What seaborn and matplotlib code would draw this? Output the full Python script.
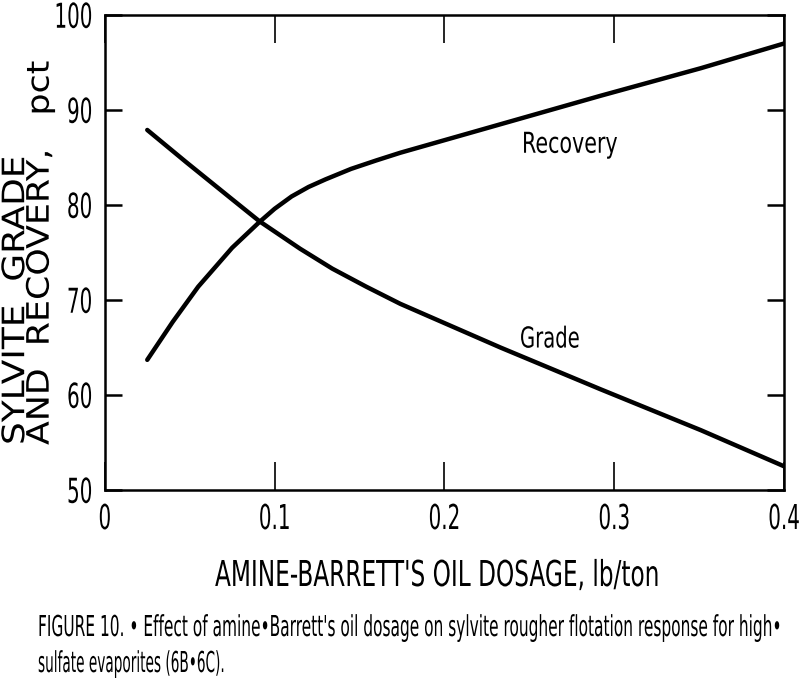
import matplotlib
matplotlib.use("Agg")
import matplotlib.pyplot as plt
import seaborn as sns
import pandas as pd
from matplotlib.patheffects import AbstractPathEffect
from matplotlib.transforms import Affine2D

# ---- data ----
grade_x = [0.025, 0.048, 0.075, 0.091, 0.115, 0.134, 0.154, 0.174, 0.233, 0.292, 0.351, 0.4]
grade_y = [87.9, 84.5, 80.6, 78.3, 75.4, 73.3, 71.4, 69.6, 65.0, 60.6, 56.3, 52.5]
recovery_x = [0.025, 0.040, 0.055, 0.075, 0.091, 0.100, 0.110, 0.120, 0.130, 0.145,
              0.160, 0.174, 0.233, 0.292, 0.351, 0.4]
recovery_y = [63.7, 67.7, 71.4, 75.5, 78.2, 79.6, 80.9, 81.9, 82.7, 83.8,
              84.7, 85.5, 88.5, 91.5, 94.4, 97.0]
x_ticks = [0, 0.1, 0.2, 0.3, 0.4]
x_tick_labels = ["0", "0.1", "0.2", "0.3", "0.4"]
y_ticks = [50, 60, 70, 80, 90, 100]
y_tick_labels = ["50", "60", "70", "80", "90", "100"]

df = pd.concat([
    pd.DataFrame({"dose": grade_x, "value": grade_y, "series": "Grade"}),
    pd.DataFrame({"dose": recovery_x, "value": recovery_y, "series": "Recovery"}),
])

CAP = 0.729          # DejaVu Sans cap / digit height (em)
CAP_MID = 36.45      # cap middle in text-path units (font size 100)


class Stretch(AbstractPathEffect):
    """Scale glyphs along (sx, from the text start) and across (sy) the text."""

    def __init__(self, sy, about="baseline", sx=1.0):
        super().__init__()
        self.sx = sx
        self.sy = sy
        self.about = about

    def draw_path(self, renderer, gc, tpath, affine, rgbFace=None):
        cy = 0.0 if self.about == "baseline" else CAP_MID
        tr = Affine2D().translate(0, -cy).scale(self.sx, self.sy).translate(0, cy) + affine
        renderer.draw_path(gc, tpath, tr, rgbFace)


sns.set_theme(style="ticks", rc={"text.color": "black", "axes.labelcolor": "black",
                                 "xtick.color": "black", "ytick.color": "black",
                                 "axes.edgecolor": "black"})
plt.rcParams["font.family"] = ["DejaVu Sans"]

DPI = 100
fig = plt.figure(figsize=(8, 6.82), dpi=DPI)
ax = fig.add_axes([0.131, 0.2815, 0.849, 0.6965])

sns.lineplot(data=df, x="dose", y="value", hue="series",
             palette={"Grade": "black", "Recovery": "black"},
             linewidth=3.2, legend=False, ax=ax, sort=False, estimator=None)

ax.set_xlim(0, 0.4)
ax.set_ylim(50, 100)
ax.set_xticks(x_ticks)
ax.set_xticklabels(x_tick_labels)
ax.set_yticks(y_ticks)
ax.set_yticklabels(y_tick_labels)
for s in ax.spines.values():
    s.set_visible(True)
    s.set_linewidth(1.8)
    s.set_color("black")
ax.set_xlabel("")
ax.set_ylabel("")

renderer = fig.canvas.get_renderer()


def nat_width(s, prop):
    w, h, d = renderer.get_text_width_height_descent(s, prop, ismath=False)
    return w


def fit(t, width_px, cap_px, about="baseline"):
    """Choose the font size so the text is width_px long, then stretch the
    glyphs so capitals are cap_px tall."""
    fs = t.get_fontsize() * width_px / nat_width(t.get_text(), t.get_fontproperties())
    t.set_fontsize(fs)
    sy = cap_px / (CAP * fs * DPI / 72.0)
    t.set_path_effects([Stretch(sy, about)])


def fit_both(t, width_px, cap_px):
    """Keep the (small) font size, scale glyphs along and across the text."""
    fs = t.get_fontsize()
    sx = width_px / nat_width(t.get_text(), t.get_fontproperties())
    sy = cap_px / (CAP * fs * DPI / 72.0)
    t.set_path_effects([Stretch(sy, "middle", sx)])


# tick labels: condensed numerals ("100" ~38 px wide, digits ~25 px tall)
probe = fig.text(0, 0, "100", fontsize=25)
tick_fs = 25 * 38.0 / nat_width("100", probe.get_fontproperties())
probe.remove()
tick_sy = 25.0 / (CAP * tick_fs * DPI / 72.0)
ax.tick_params(axis="x", direction="in", length=20, width=1.2, top=True,
               labelsize=tick_fs, pad=13.5)
ax.tick_params(axis="y", direction="in", length=12, width=1.8, right=True,
               labelsize=tick_fs, pad=9)
for lab in ax.get_xticklabels() + ax.get_yticklabels():
    lab.set_path_effects([Stretch(tick_sy, "middle")])

t = ax.text(0.2457, 85.5, "Recovery", fontsize=14, va="baseline", ha="left")
fit(t, 96, 21)
t = ax.text(0.2445, 65.0, "Grade", fontsize=14, va="baseline", ha="left")
fit(t, 60, 21)

H = 682.0
t = fig.text(215 / 800, 1 - 586 / H, "AMINE-BARRETT'S OIL DOSAGE, lb/ton",
             fontsize=16, ha="left", va="baseline")
fit(t, 445, 26)

t = fig.text(14.5 / 800, 1 - 445 / H, "SYLVITE  GRADE", rotation=90,
             rotation_mode="anchor", fontsize=14, ha="left", va="center")
fit_both(t, 290, 22.5)
t = fig.text(39 / 800, 1 - 445 / H, "AND  RECOVERY,   pct", rotation=90,
             rotation_mode="anchor", fontsize=14, ha="left", va="center")
fit_both(t, 385, 22.5)

t = fig.text(38 / 800, 1 - 636 / H,
             "FIGURE 10. \u2022 Effect of amine\u2022Barrett's oil dosage on sylvite rougher flotation response for high\u2022",
             fontsize=11, ha="left", va="baseline")
fit(t, 745, 21)
t = fig.text(38 / 800, 1 - 672 / H, "sulfate evaporites (6B\u20226C).",
             fontsize=11, ha="left", va="baseline")
fit(t, 187, 21)

fig.savefig("out.png", dpi=DPI)
